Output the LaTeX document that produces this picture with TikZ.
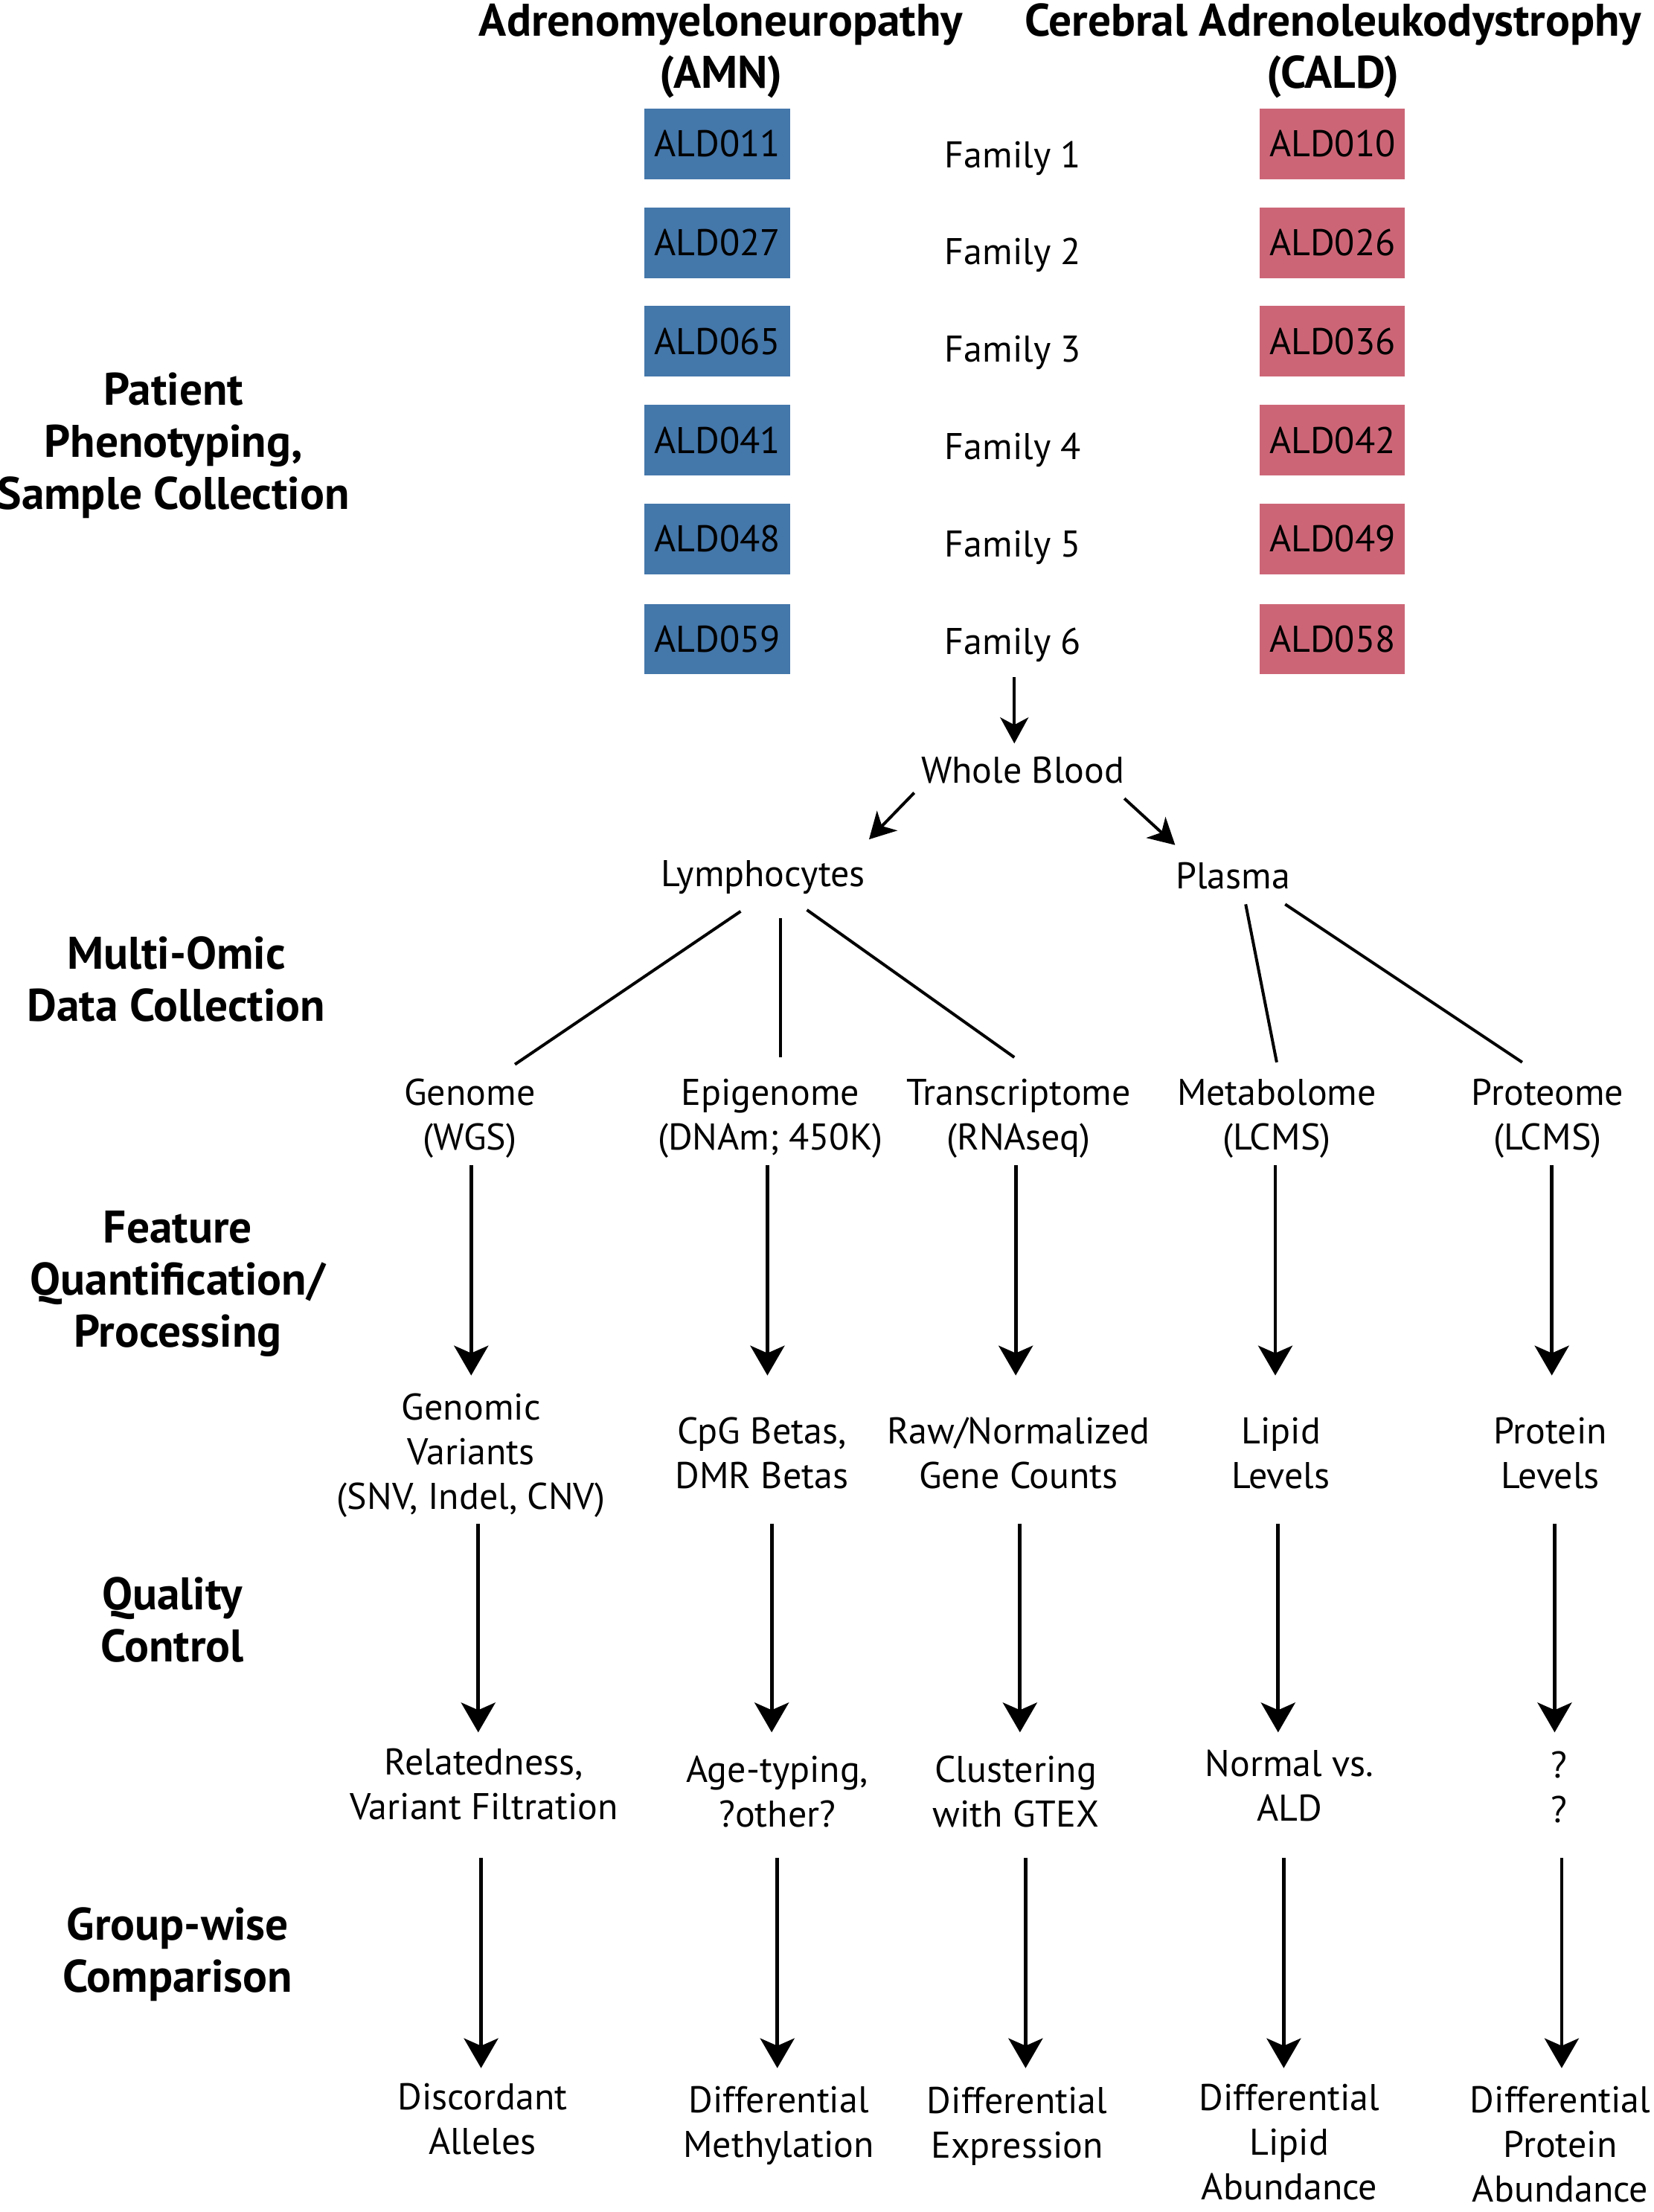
\documentclass[tikz,border=0pt]{standalone}
\usepackage{fontspec}
\setmainfont{PT Sans}
\usetikzlibrary{arrows.meta,calc}
\definecolor{amnblue}{HTML}{4477AA}
\definecolor{caldred}{HTML}{CC6677}
\begin{document}
\begin{tikzpicture}[x=0.9484pt,y=-0.9484pt,
  txt/.style={font=\fontsize{25}{30}\selectfont, align=center, inner sep=0pt},
  hdr/.style={font=\fontsize{30.7}{35}\selectfont\bfseries, align=center, inner sep=0pt},
  sbox/.style={txt, minimum width=97.7pt, minimum height=47.4pt},
  amnbox/.style={sbox, fill=amnblue},
  caldbox/.style={sbox, fill=caldred},
  arr/.style={line width=2.4pt, -{Stealth[length=20pt,width=23pt,inset=5pt]}},
  sarr/.style={line width=2pt, -{Stealth[length=17.5pt,width=19pt,inset=5pt]}},
  conn/.style={line width=2pt}]
\useasboundingbox (0,0) rectangle (1172,1568);

% headers
\node[hdr] (amnh) at (511,36) {Adrenomyeloneuropathy\\(AMN)};
\node[hdr] (caldh) at (945,36) {Cerebral Adrenoleukodystrophy\\(CALD)};

% sample boxes and families
\foreach \i/\y/\a/\c/\fy in {1/102/ALD011/ALD010/112, 2/172/ALD027/ALD026/181, 3/242/ALD065/ALD036/250, 4/312/ALD041/ALD042/319, 5/382/ALD048/ALD049/388, 6/453/ALD059/ALD058/457}{
  \node[amnbox] (amn\i) at (508.5,\y) {\a};
  \node[caldbox] (cald\i) at (944.5,\y) {\c};
  \node[txt] (fam\i) at (718,\fy) {Family \i};
}

% stage labels
\node[hdr] (lab1) at (123,316) {Patient\\Phenotyping,\\Sample Collection};
\node[hdr] (lab2) at (125,694) {Multi-Omic\\Data Collection};
\node[hdr] (lab3) at (126,910) {Feature\\Quantification/\\Processing};
\node[hdr] (lab4) at (122,1148) {Quality\\Control};
\node[hdr] (lab5) at (126,1385.5) {Group-wise\\Comparison};

% sample tree
\node[txt] (wb) at (725,546) {Whole Blood};
\node[txt] (lymph) at (541,622) {Lymphocytes};
\node[txt] (plasma) at (874,621) {Plasma};

% omics
\node[txt] (genome) at (333,793) {Genome\\(WGS)};
\node[txt] (epi) at (546,793) {Epigenome\\(DNAm; 450K)};
\node[txt] (trans) at (722,793) {Transcriptome\\(RNAseq)};
\node[txt] (metab) at (905,793) {Metabolome\\(LCMS)};
\node[txt] (prot) at (1097,793) {Proteome\\(LCMS)};

% features
\node[txt] (genvar) at (334,1031.5) {Genomic\\Variants\\(SNV, Indel, CNV)};
\node[txt] (cpg) at (540,1030) {CpG Betas,\\DMR Betas};
\node[txt] (counts) at (722,1030) {Raw/Normalized\\Gene Counts};
\node[txt] (lipid) at (908,1030) {Lipid\\Levels};
\node[txt] (protlev) at (1099,1030) {Protein\\Levels};

% QC
\node[txt] (relat) at (343,1265) {Relatedness,\\Variant Filtration};
\node[txt] (age) at (551,1270) {Age-typing,\\?other?};
\node[txt] (clust) at (720,1270) {Clustering\\with GTEX};
\node[txt] (normal) at (914,1266) {Normal vs.\\ALD};
\node[txt] (qq) at (1105,1267) {?\\?};

% comparisons
\node[txt] (disc) at (342,1502) {Discordant\\Alleles};
\node[txt] (dmeth) at (552,1507) {Differential\\Methylation};
\node[txt] (dexpr) at (721,1507) {Differential\\Expression};
\node[txt] (dlipid) at (914,1518.5) {Differential\\Lipid\\Abundance};
\node[txt] (dprot) at (1106,1520) {Differential\\Protein\\Abundance};

% arrows of the sample tree
\draw[sarr] ($(fam6)+(1,23)$) -- ($(wb)+(-6,-19)$);
\draw[sarr] ($(wb)+(-77,16)$) -- ($(lymph)+(75,-27)$);
\draw[sarr] ($(wb)+(72,20)$) -- ($(plasma)+(-41,-22)$);

% branch lines
\draw[conn] ($(lymph)+(-16,24)$) -- ($(genome)+(32,-38.5)$);
\draw[conn] ($(lymph)+(12,29)$) -- ($(epi)+(7,-43.5)$);
\draw[conn] ($(lymph)+(31,23)$) -- ($(trans)+(-3,-43.5)$);
\draw[conn] ($(plasma)+(9,20)$) -- ($(metab)+(0,-40)$);
\draw[conn] ($(plasma)+(37,20)$) -- ($(prot)+(-18,-40)$);

% column arrows: omics -> features
\draw[arr] ($(genome)+(1,33)$) -- ($(genvar)+(0,-56.5)$);
\draw[arr] ($(epi)+(-2,33)$) -- ($(cpg)+(4,-55)$);
\draw[arr] ($(trans)+(-2,33)$) -- ($(counts)+(-2,-55)$);
\draw[arr] ($(metab)+(-1,33)$) -- ($(lipid)+(-4,-55)$);
\draw[arr] ($(prot)+(3,33)$) -- ($(protlev)+(1,-55)$);

% features -> QC
\draw[arr] ($(genvar)+(5,48.5)$) -- ($(relat)+(-4,-37)$);
\draw[arr] ($(cpg)+(7,50)$) -- ($(age)+(-4,-42)$);
\draw[arr] ($(counts)+(1,50)$) -- ($(clust)+(3,-42)$);
\draw[arr] ($(lipid)+(-2,50)$) -- ($(normal)+(-8,-38)$);
\draw[arr] ($(protlev)+(3,50)$) -- ($(qq)+(-3,-39)$);

% QC -> comparisons
\draw[arr] ($(relat)+(-2,52)$) -- ($(disc)+(-1,-36)$);
\draw[arr] ($(age)+(0,47)$) -- ($(dmeth)+(-1,-41)$);
\draw[arr] ($(clust)+(7,47)$) -- ($(dexpr)+(6,-41)$);
\draw[arr] ($(normal)+(-4,51)$) -- ($(dlipid)+(-4,-52.5)$);
\draw[arr] ($(qq)+(2,50)$) -- ($(dprot)+(1,-54)$);
\end{tikzpicture}
\end{document}
